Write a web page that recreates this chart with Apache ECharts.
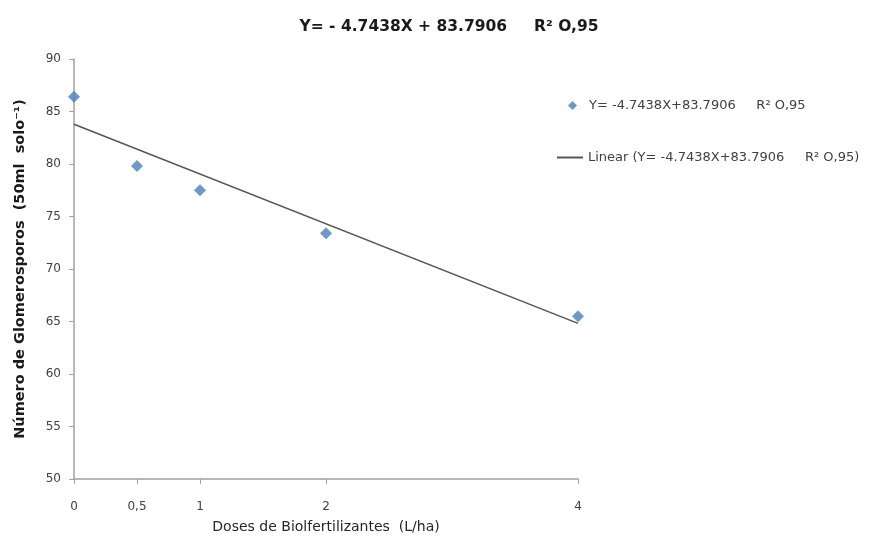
<!doctype html>
<html>
<head>
<meta charset="UTF-8">
<title>Glomerosporos</title>
<script src="https://cdn.jsdelivr.net/npm/echarts@6/dist/echarts.min.js"></script>
<style>
  html, body { margin: 0; padding: 0; background: #fff; }
  #main { width: 877px; height: 539px; }
</style>
</head>
<body>
<div id="main"></div>
<script>
// dados
var doses = [0, 0.5, 1, 2, 4];
var glomerosporos = [86.4, 79.8, 77.5, 73.4, 65.5];
// pontas da reta de tendencia (x = 0 e x = 4)
var linearX = [0, 4];
var linearY = [83.79, 64.82];

var eqText = 'Y= -4.7438X+83.7906     R\u00B2 O,95';
var linName = 'Linear (' + eqText + ')';

var chart = echarts.init(document.getElementById('main'));

var option = {
    backgroundColor: '#fff',
    animation: false,
    textStyle: { fontFamily: 'DejaVu Sans, sans-serif' },
    title: {
        text: 'Y= - 4.7438X + 83.7906     R\u00B2 O,95',
        left: 449,
        textAlign: 'center',
        top: 19,
        padding: 0,
        textStyle: { fontSize: 15.5, fontWeight: 'bold', color: '#1a1a1a', fontFamily: 'DejaVu Sans' }
    },
    legend: [
        {
            orient: 'vertical',
            left: 568,
            top: 99,
            padding: 0,
            itemWidth: 9,
            itemHeight: 9,
            textStyle: { fontSize: 13, color: '#404040', padding: [0, 0, 0, 7] },
            data: [{ name: eqText, icon: 'diamond' }]
        },
        {
            orient: 'vertical',
            left: 557,
            top: 151,
            padding: 0,
            itemWidth: 26,
            itemHeight: 2,
            textStyle: { fontSize: 13, color: '#404040' },
            data: [{ name: linName, icon: 'rect' }]
        }
    ],
    grid: { left: 74, right: 299, top: 59, bottom: 60 },
    xAxis: {
        type: 'value',
        min: 0,
        max: 4,
        interval: 0.5,
        name: 'Doses de Biolfertilizantes  (L/ha)',
        nameLocation: 'middle',
        nameGap: 41,
        nameTextStyle: { fontSize: 14, color: '#262626' },
        axisLine: { lineStyle: { color: '#a0a0a0', width: 1.5 } },
        axisTick: { show: true, length: 5, customValues: doses, lineStyle: { color: '#a0a0a0' } },
        axisLabel: {
            fontSize: 12,
            color: '#404040',
            margin: 8,
            padding: [14, 0, 0, 0],
            formatter: function (v) {
                return doses.indexOf(v) >= 0 ? String(v).replace('.', ',') : '';
            }
        },
        splitLine: { show: false }
    },
    yAxis: {
        type: 'value',
        min: 50,
        max: 90,
        interval: 5,
        name: 'N\u00FAmero de Glomerosporos  (50ml  solo\u207B\u00B9)',
        nameLocation: 'middle',
        nameGap: 46,
        nameRotate: 90,
        nameTextStyle: { fontSize: 14.5, fontWeight: 'bold', color: '#1a1a1a' },
        axisLine: { show: true, lineStyle: { color: '#a0a0a0', width: 1.5 } },
        axisTick: { show: true, length: 5, lineStyle: { color: '#a0a0a0' } },
        axisLabel: { fontSize: 12, color: '#404040', margin: 8, padding: [0, 5, 0, 0] },
        splitLine: { show: false }
    },
    series: [
        {
            name: linName,
            type: 'line',
            data: linearX.map(function (x, i) { return [x, linearY[i]]; }),
            symbol: 'none',
            lineStyle: { color: '#555', width: 1.5 },
            itemStyle: { color: '#555' },
            z: 1
        },
        {
            name: eqText,
            type: 'scatter',
            data: doses.map(function (x, i) { return [x, glomerosporos[i]]; }),
            symbol: 'diamond',
            symbolSize: 12,
            itemStyle: { color: '#4a7ebb' },
            z: 2
        }
    ]
};

chart.setOption(option);
</script>
</body>
</html>
